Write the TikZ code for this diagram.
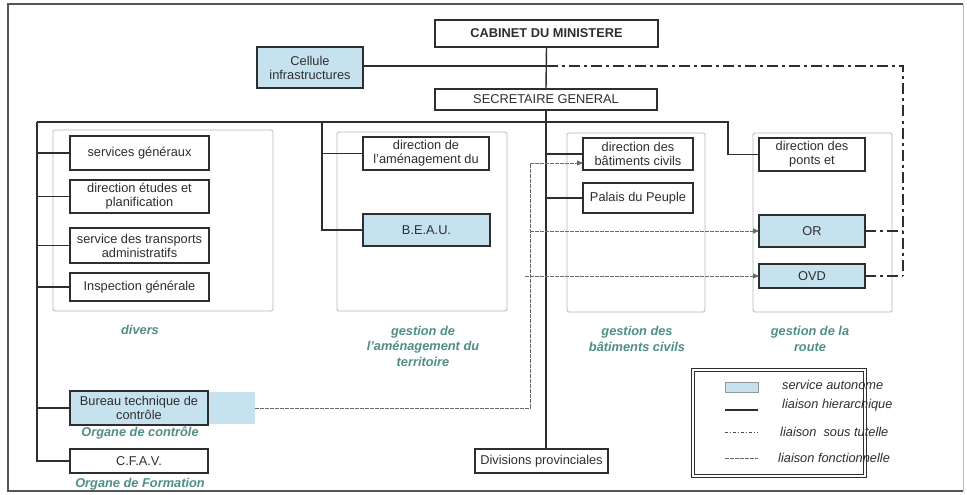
\documentclass[tikz,border=0pt]{standalone}
\usepackage{fontspec}
\setmainfont{Liberation Sans}
\usetikzlibrary{arrows.meta}
\definecolor{ink}{HTML}{2E2E2E}
\definecolor{autofill}{HTML}{C6E2EF}
\definecolor{groupline}{HTML}{A9BDBA}
\definecolor{captioncol}{HTML}{4F8F86}
\definecolor{funccol}{HTML}{6A6A6A}
\definecolor{framecol}{HTML}{555555}

\begin{document}
\begin{tikzpicture}[x=1pt,y=-1pt,
  unit/.style={draw=ink, line width=1.6pt, text=ink, inner sep=0pt, outer sep=0pt,
    align=center, font=\fontsize{12.8}{14}\selectfont},
  autonomous/.style={unit, fill=autofill},
  strongunit/.style={autonomous, line width=2.8pt},
  group/.style={draw=groupline, line width=0.9pt, rounded corners=1.5pt},
  caption/.style={text=captioncol, inner sep=0pt, align=center,
    font=\fontsize{12.8}{15.5}\selectfont\bfseries\itshape},
  hier/.style={draw=ink, line width=1.4pt},
  tutelle/.style={draw=ink, line width=1.1pt, dash pattern=on 11pt off 4pt on 3pt off 4pt},
  func/.style={draw=funccol, line width=0.8pt, dash pattern=on 4pt off 1pt},
  arr/.style={-{Triangle[length=6pt,width=5pt]}},
  legendtext/.style={text=ink, anchor=west, inner sep=0pt,
    font=\fontsize{12.8}{14}\selectfont\itshape},
]
\useasboundingbox (0,0) rectangle (967,495);
\fill[white] (0,0) rectangle (967,495);

% outer frame
\draw[framecol, line width=1.2pt] (963,4) -- (8,4) -- (8,491) -- (963,491);
\draw[framecol!40, line width=0.8pt] (963,4) -- (963,491);

% functional groups
\draw[group] (53,130) rectangle (273,311);
\draw[group] (337,132) rectangle (507,311);
\draw[group] (567,133) rectangle (705,312);
\draw[group] (753,133) rectangle (892,312);

% top of the hierarchy
\node[unit, font=\fontsize{12.8}{14}\selectfont\bfseries, minimum width=223, minimum height=27] (cab) at (546.5,33.5) {CABINET DU MINISTERE};
\node[unit, minimum width=222, minimum height=21] (sg) at (546,99.5) {SECRETAIRE GENERAL};
\node[autonomous, minimum width=106, minimum height=41] (cell) at (310,67.5) {Cellule\\infrastructures};

% divers
\node[unit, minimum width=139, minimum height=34] (sgx) at (139.5,153) {services généraux};
\node[unit, minimum width=139, minimum height=33] (det) at (139.5,196.5) {direction études et\\planification};
\node[unit, minimum width=139, minimum height=35] (str) at (139.5,245.5) {service des transports\\administratifs};
\node[unit, minimum width=139, minimum height=28] (insp) at (139.5,287) {Inspection générale};

% control and training
\fill[autofill] (208,392) rectangle (255,424);
\coordinate (btcx) at (255,408);
\node[autonomous, minimum width=138, minimum height=34] (btc) at (139,408) {Bureau technique de\\contrôle};
\node[unit, minimum width=138, minimum height=24] (cfav) at (139,461) {C.F.A.V.};

% territory
\node[unit, minimum width=126, minimum height=33] (dam) at (426,153.5) {direction de\\l'aménagement du};
\node[strongunit, minimum width=127, minimum height=32] (beau) at (426.5,230) {B.E.A.U.};

% civil buildings
\node[unit, minimum width=110, minimum height=32] (dbc) at (638,154) {direction des\\bâtiments civils};
\node[unit, minimum width=110, minimum height=30] (pdp) at (638,198) {Palais du Peuple};

% roads
\node[unit, minimum width=106, minimum height=33] (dpe) at (812,154.5) {direction des\\ponts et};
\node[strongunit, minimum width=106, minimum height=32] (or) at (812,231) {OR};
\node[strongunit, minimum width=106, minimum height=24] (ovd) at (812,276) {OVD};

\node[unit, line width=1.2pt, minimum width=133, minimum height=24] (dprov) at (541.5,461) {Divisions provinciales};

% captions
\node[caption] (capdiv) at (140,330) {divers};
\node[caption] (capam) at (423,346) {gestion de\\l'aménagement du\\territoire};
\node[caption] (capbc) at (637,339) {gestion des\\bâtiments civils};
\node[caption] (caprt) at (810,339) {gestion de la\\route};
\node[caption] (capctl) at (140,433) {Organe de contrôle};
\node[caption] (capfor) at (140,484) {Organe de Formation};

% hierarchical links
\coordinate (sgbar) at (37,122);
\coordinate (sgend) at (728,122);
\coordinate (amtop) at (322,122);
\draw[hier] (cab.south) -- (sg.north);
\draw[hier] (sg.south) -- (sg.south |- dprov.north);
\draw[hier] (cell.east |- 0,66) -- (cab.south |- 0,66);
\draw[hier] (sgbar) -- (sgend) -- (sgend |- dpe.west) -- (dpe.west);
\draw[hier] (sgbar) -- (sgbar |- cfav.west) -- (cfav.west);
\foreach \n in {sgx,det,str,insp,btc}
  \draw[hier] (sgbar |- \n.west) -- (\n.west);
\draw[hier] (amtop) -- (amtop |- beau.west) -- (beau.west);
\draw[hier] (amtop |- dam.west) -- (dam.west);
\draw[hier] (sg.south |- dbc.west) -- (dbc.west);
\draw[hier] (sg.south |- pdp.west) -- (pdp.west);

% supervision links
\coordinate (tutc) at (903,66);
\draw[tutelle] (cab.south |- 0,66) -- (tutc) -- (tutc |- ovd.east);
\draw[tutelle] (or.east) -- (tutc |- or.east);
\draw[tutelle] (ovd.east) -- (tutc |- ovd.east);

% functional links
\coordinate (fbot) at (530,408);
\coordinate (ftop) at (530,163);
\coordinate (fovd) at (525,276);
\draw[func, arr] (btcx) -- (fbot) -- (ftop) -- (dbc.west |- ftop);
\draw[func, arr] (ftop |- or.west) -- (or.west);
\draw[func, arr] (fovd) -- (ovd.west);

% legend
\draw[ink, line width=0.9pt, double=white, double distance=2pt] (693,370) rectangle (865,476);
\node[fill=autofill, draw=ink!50, line width=0.5pt, minimum width=33, minimum height=10, inner sep=0pt] (lgauto) at (741.5,387) {};
\coordinate (lghl) at (725,410);
\coordinate (lghr) at (758,410);
\coordinate (lgtl) at (725,432);
\coordinate (lgtr) at (758,432);
\coordinate (lgfl) at (725,458);
\coordinate (lgfr) at (758,458);
\draw[hier, line width=1.2pt] (lghl) -- (lghr);
\draw[ink!85, line width=0.8pt, dash pattern=on 3pt off 2pt on 1pt off 2pt] (lgtl) -- (lgtr);
\draw[func] (lgfl) -- (lgfr);
\node[legendtext] (ltauto) at (782,385) {service autonome};
\node[legendtext] (lthier) at (782,405) {liaison hierarchique};
\node[legendtext] (lttut) at (780,432) {liaison\ \ sous tutelle};
\node[legendtext] (ltfunc) at (778,458) {liaison fonctionnelle};
\end{tikzpicture}
\end{document}
